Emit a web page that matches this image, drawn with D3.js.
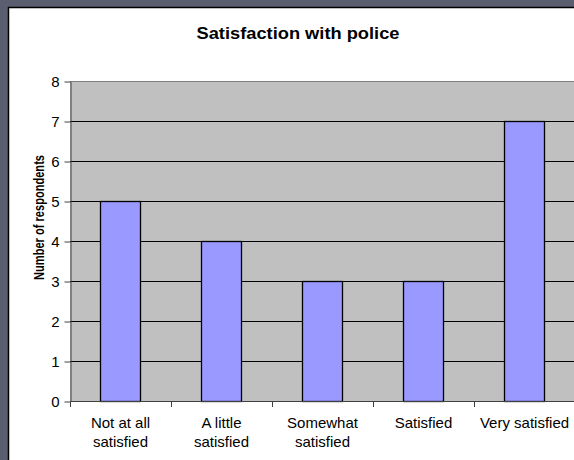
<!DOCTYPE html>
<html>
<head>
<meta charset="utf-8">
<script src="https://cdn.jsdelivr.net/npm/d3@7"></script>
<style>
	body{margin:0;padding:0;background:#5b5e6f;}
	svg{display:block;}
	text{font-family:"Liberation Sans", Arial, sans-serif;fill:#000;}
</style>
</head>
<body>
<svg id="chart" width="574" height="460"></svg>
<script>
//Chart data.
var categories = [["Not at all", "satisfied"], ["A little", "satisfied"], ["Somewhat", "satisfied"], ["Satisfied"], ["Very satisfied"]];
var respondents = [5, 4, 3, 3, 7];
var yTicks = [0, 1, 2, 3, 4, 5, 6, 7, 8];
var chartTitle = "Satisfaction with police";
var yTitle = "Number of respondents";

var width = 574, height = 460;
var plot = {left: 70, right: 575, top: 81, bottom: 401};

var svg = d3.select("#chart");

//Outer frame and white chart area.
svg.append("rect")
	.attr("width", width)
	.attr("height", height)
	.attr("fill", "#5b5e6f");

svg.append("rect")
	.attr("x", 8.5)
	.attr("y", 7.5)
	.attr("width", width)
	.attr("height", height)
	.attr("fill", "#fff")
	.attr("stroke", "#000")
	.attr("stroke-width", 1.5);

//Scales.
var x = d3.scaleBand()
	.domain(d3.range(categories.length))
	.range([plot.left, plot.right])
	.padding(0);

var y = d3.scaleLinear()
	.domain([0, 8])
	.range([plot.bottom, plot.top]);

//Plot background.
svg.append("rect")
	.attr("x", plot.left)
	.attr("y", plot.top)
	.attr("width", plot.right - plot.left)
	.attr("height", plot.bottom - plot.top)
	.attr("fill", "#c0c0c0");

svg.append("line")
	.attr("x1", plot.left).attr("x2", plot.right)
	.attr("y1", plot.top + 0.5).attr("y2", plot.top + 0.5)
	.attr("stroke", "#808080");

//Gridlines.
svg.append("g")
	.selectAll("line")
	.data(yTicks.filter(function(d){ return d > 0 && d < 8; }))
	.enter()
	.append("line")
	.attr("x1", plot.left).attr("x2", plot.right)
	.attr("y1", function(d){ return Math.round(y(d)) + 0.5; })
	.attr("y2", function(d){ return Math.round(y(d)) + 0.5; })
	.attr("stroke", "#000");

//Bars.
var barW = 40;
svg.append("g")
	.selectAll("rect")
	.data(respondents)
	.enter()
	.append("rect")
	.attr("x", function(d, i){ return Math.floor(x(i) + (x.bandwidth() - barW) / 2) + 0.5; })
	.attr("y", function(d){ return Math.round(y(d)) + 0.5; })
	.attr("width", barW)
	.attr("height", function(d){ return y(0) - y(d); })
	.attr("fill", "#9999ff")
	.attr("stroke", "#000")
	.attr("stroke-width", 1.3);

//Y axis.
var yAxis = svg.append("g")
	.attr("transform", "translate(" + (plot.left + 0.5) + ",0.5)")
	.call(d3.axisLeft(y).tickValues(yTicks).tickSize(6).tickPadding(5).tickSizeOuter(0));
yAxis.select(".domain").attr("stroke", "#404040");
yAxis.selectAll(".tick line").attr("stroke", "#404040");
yAxis.selectAll(".tick text")
	.attr("font-size", "15px")
	.attr("font-family", "Liberation Sans, Arial, sans-serif")
	.attr("fill", "#000");

//X axis with ticks between categories.
var xAxis = svg.append("g");
xAxis.append("line")
	.attr("x1", plot.left).attr("x2", plot.right)
	.attr("y1", plot.bottom + 0.5).attr("y2", plot.bottom + 0.5)
	.attr("stroke", "#404040");
xAxis.selectAll(".xtick")
	.data(d3.range(categories.length + 1))
	.enter()
	.append("line")
	.attr("x1", function(i){ return Math.round(plot.left + i * x.step()) + 0.5; })
	.attr("x2", function(i){ return Math.round(plot.left + i * x.step()) + 0.5; })
	.attr("y1", plot.bottom)
	.attr("y2", plot.bottom + 6)
	.attr("stroke", "#404040");

//Category labels.
var labels = svg.append("g")
	.selectAll("text")
	.data(categories)
	.enter()
	.append("text")
	.attr("text-anchor", "middle")
	.attr("font-size", "15px")
	.attr("transform", function(d, i){ return "translate(" + (x(i) + x.bandwidth() / 2) + ",428)"; });

labels.selectAll("tspan")
	.data(function(d){ return d; })
	.enter()
	.append("tspan")
	.attr("x", 0)
	.attr("dy", function(d, i){ return i === 0 ? 0 : 19; })
	.text(function(d){ return d; });

//Title.
svg.append("text")
	.attr("x", 298)
	.attr("y", 39)
	.attr("text-anchor", "middle")
	.attr("font-size", "17px")
	.attr("font-weight", "bold")
	.attr("textLength", 203)
	.attr("lengthAdjust", "spacingAndGlyphs")
	.text(chartTitle);

//Y axis title.
svg.append("text")
	.attr("transform", "translate(44,217.5) rotate(-90)")
	.attr("text-anchor", "middle")
	.attr("font-size", "15px")
	.attr("font-weight", "bold")
	.attr("textLength", 125)
	.attr("lengthAdjust", "spacingAndGlyphs")
	.text(yTitle);
</script>
</body>
</html>
